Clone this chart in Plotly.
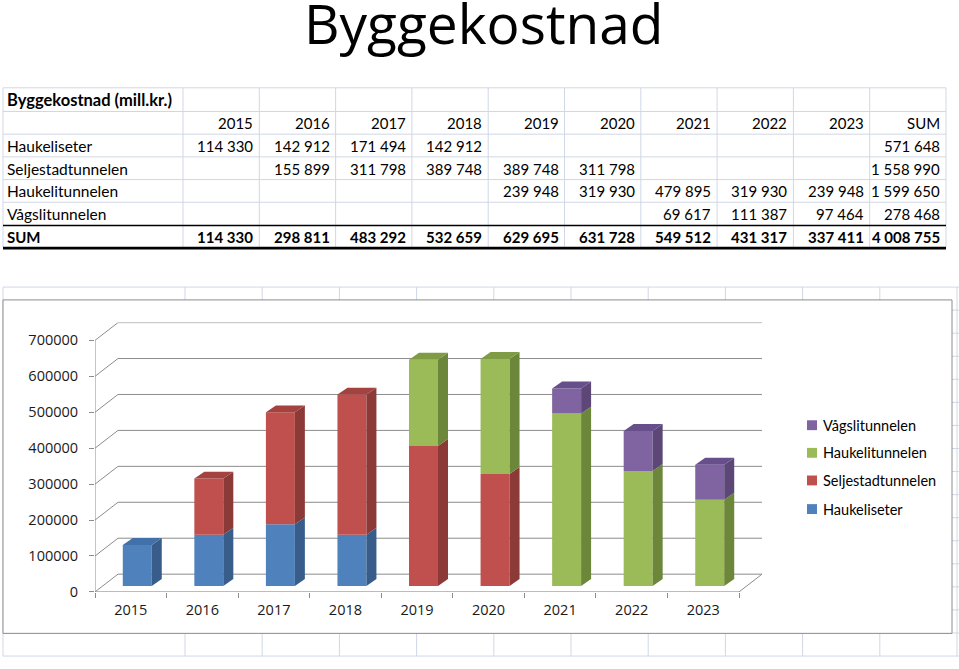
import plotly.graph_objects as go

# ---------------- data ----------------
years = ["2015", "2016", "2017", "2018", "2019", "2020", "2021", "2022", "2023"]
series_names = ["Haukeliseter", "Seljestadtunnelen", "Haukelitunnelen", "Vågslitunnelen"]
haukeliseter = [114330, 142912, 171494, 142912, None, None, None, None, None]
seljestadtunnelen = [None, 155899, 311798, 389748, 389748, 311798, None, None, None]
haukelitunnelen = [None, None, None, None, 239948, 319930, 479895, 319930, 239948]
vagslitunnelen = [None, None, None, None, None, None, 69617, 111387, 97464]
row_sums = [571648, 1558990, 1599650, 278468]
year_sums = [114330, 298811, 483292, 532659, 629695, 631728, 549512, 431317, 337411]
grand_total = 4008755
table_title = "Byggekostnad (mill.kr.)"
sum_label = "SUM"
page_title = "Byggekostnad"
y_ticks = [0, 100000, 200000, 300000, 400000, 500000, 600000, 700000]

series_values = [haukeliseter, seljestadtunnelen, haukelitunnelen, vagslitunnelen]

# ---------------- style ----------------
W, H = 959, 669
front_colors = ["#4F81BD", "#C0504D", "#9BBB59", "#8064A2"]
side_colors = ["#385D8A", "#8C3A38", "#6C873A", "#5C4777"]
top_colors = ["#4270A8", "#A4423F", "#7F9C45", "#674F8C"]
GRID_XL = "#D0D7E5"
AXIS_C = "#8C8C8C"
TXT_FONT = "Lato"
CH_FONT = "Open Sans"


def px(x):
    return x / W


def py(y):
    return 1 - y / H


def fmt(v):
    if v is None:
        return ""
    return f"{v:,}".replace(",", " ")


# 3D geometry (pixel -> data units)
PX_PER_CAT = 71.6
UNITS_PER_PX = 100000 / 36.4
WX, WY = 23 / PX_PER_CAT, 18 * UNITS_PER_PX      # back-wall offset
FX, FY = 6.5 / PX_PER_CAT, 6 * UNITS_PER_PX      # bar front-face offset
BW = 29 / PX_PER_CAT                              # bar width
DX, DY = 10 / PX_PER_CAT, 7 * UNITS_PER_PX       # bar depth

n = len(years)
fig = go.Figure()

# ---------------- bars ----------------
cum = [0] * n
sides = [([], []) for _ in series_values]
tops = [([], []) for _ in series_values]
top_series = [None] * n
top_val = [0] * n
for s, vals in enumerate(series_values):
    bx, by, bb = [], [], []
    for i, v in enumerate(vals):
        if not v:
            continue
        b = cum[i] + FY
        t = cum[i] + v + FY
        bx.append(i + FX)
        by.append(v)
        bb.append(b)
        x1 = i + FX + BW / 2
        sx, sy = sides[s]
        sx += [x1, x1 + DX, x1 + DX, x1, x1, None]
        sy += [b, b + DY, t + DY, t, b, None]
        cum[i] += v
        top_series[i] = s
        top_val[i] = t
    fig.add_trace(go.Bar(x=bx, y=by, base=bb, width=BW, name=series_names[s],
                         marker=dict(color=front_colors[s], line=dict(width=0)),
                         showlegend=False))

for i in range(n):
    s = top_series[i]
    if s is None:
        continue
    t = top_val[i]
    x0 = i + FX - BW / 2
    x1 = i + FX + BW / 2
    tx, ty = tops[s]
    tx += [x0, x1, x1 + DX, x0 + DX, x0, None]
    ty += [t, t, t + DY, t + DY, t, None]

for s in range(len(series_values)):
    fig.add_trace(go.Scatter(x=sides[s][0], y=sides[s][1], mode="lines", fill="toself",
                             fillcolor=side_colors[s], line=dict(width=0),
                             hoverinfo="skip", showlegend=False))
    if tops[s][0]:
        fig.add_trace(go.Scatter(x=tops[s][0], y=tops[s][1], mode="lines", fill="toself",
                                 fillcolor=top_colors[s], line=dict(width=0),
                                 hoverinfo="skip", showlegend=False))

shapes = []
annotations = []

# ---------------- spreadsheet grid behind chart ----------------
for k in range(17):
    yy = 291 + 23.375 * k
    shapes.append(dict(type="line", xref="paper", yref="paper", x0=px(3), x1=px(959),
                       y0=py(yy), y1=py(yy), line=dict(color=GRID_XL, width=1), layer="below"))
for xx in [3] + [185 + 77.2 * k for k in range(11)]:
    shapes.append(dict(type="line", xref="paper", yref="paper", x0=px(xx), x1=px(xx),
                       y0=py(291), y1=py(665), line=dict(color=GRID_XL, width=1), layer="below"))
# chart box
shapes.append(dict(type="rect", xref="paper", yref="paper", x0=px(3), x1=px(952),
                   y0=py(642), y1=py(304), fillcolor="white",
                   line=dict(color="#8C8C8C", width=1), layer="below"))

# ---------------- 3D wall / floor lines (data coordinates) ----------------
gl = dict(color=AXIS_C, width=1)
for v in y_ticks:
    shapes.append(dict(type="line", xref="x", yref="y", x0=-0.5 + WX, x1=n - 0.5 + WX,
                       y0=v + WY, y1=v + WY, line=gl, layer="below"))
    shapes.append(dict(type="line", xref="x", yref="y", x0=-0.5, x1=-0.5 + WX,
                       y0=v, y1=v + WY, line=gl, layer="below"))
shapes.append(dict(type="line", xref="x", yref="y", x0=-0.5, x1=-0.5, y0=0, y1=y_ticks[-1],
                   line=gl, layer="below"))
shapes.append(dict(type="line", xref="x", yref="y", x0=-0.5, x1=n - 0.5, y0=0, y1=0,
                   line=gl, layer="below"))
shapes.append(dict(type="line", xref="x", yref="y", x0=n - 0.5, x1=n - 0.5 + WX, y0=0, y1=WY,
                   line=gl, layer="below"))

# ---------------- table ----------------
col_edges = [183 + 76.3 * k for k in range(11)]
row_lines = [89, 113, 136, 159, 182, 205]
row_centers = [101, 125, 148, 171, 194, 217, 240]
for yy in row_lines:
    shapes.append(dict(type="line", xref="paper", yref="paper", x0=px(3), x1=px(946),
                       y0=py(yy), y1=py(yy), line=dict(color=GRID_XL, width=1)))
for xx in [3] + col_edges:
    shapes.append(dict(type="line", xref="paper", yref="paper", x0=px(xx), x1=px(xx),
                       y0=py(89), y1=py(251), line=dict(color=GRID_XL, width=1)))
shapes.append(dict(type="line", xref="paper", yref="paper", x0=px(3), x1=px(946),
                   y0=py(228.5), y1=py(228.5), line=dict(color="black", width=1.6)))
shapes.append(dict(type="line", xref="paper", yref="paper", x0=px(3), x1=px(946),
                   y0=py(251.5), y1=py(251.5), line=dict(color="black", width=2.6)))

tf = dict(family=TXT_FONT, size=15, color="black")


def cell(text, col, row, bold=False, left=False, size=15):
    t = f"<b>{text}</b>" if bold else text
    f = dict(tf, size=size)
    if left:
        annotations.append(dict(text=t, x=px(5), y=py(row_centers[row]), xref="paper",
                                yref="paper", xanchor="left", yanchor="middle",
                                showarrow=False, font=f))
    else:
        annotations.append(dict(text=t, x=px(col_edges[col + 1] - 4), y=py(row_centers[row]),
                                xref="paper", yref="paper", xanchor="right",
                                yanchor="middle", showarrow=False, font=f))


cell(table_title, 0, 0, bold=True, left=True, size=16.5)
for j, yr in enumerate(years):
    cell(yr, j, 1)
cell(sum_label, len(years), 1)
for s, vals in enumerate(series_values):
    cell(series_names[s], 0, 2 + s, left=True, size=15.5)
    for j, v in enumerate(vals):
        if v:
            cell(fmt(v), j, 2 + s)
    cell(fmt(row_sums[s]), len(years), 2 + s)
cell(sum_label, 0, 6, bold=True, left=True)
for j, v in enumerate(year_sums):
    cell(fmt(v), j, 6, bold=True)
cell(fmt(grand_total), len(years), 6, bold=True)

# ---------------- title ----------------
annotations.append(dict(text=page_title, x=px(483), y=py(23), xref="paper", yref="paper",
                        xanchor="center", yanchor="middle", showarrow=False,
                        font=dict(family="Open Sans", size=55, color="black")))

# ---------------- legend (manual) ----------------
leg_y = [516, 487, 459, 431]
for s in range(len(series_names)):
    yc = leg_y[s]
    shapes.append(dict(type="rect", xref="paper", yref="paper", x0=px(807), x1=px(817),
                       y0=py(yc + 5), y1=py(yc - 5), fillcolor=front_colors[s],
                       line=dict(width=0)))
    annotations.append(dict(text=series_names[s], x=px(821), y=py(yc), xref="paper",
                            yref="paper", xanchor="left", yanchor="middle", showarrow=False,
                            font=dict(family=TXT_FONT, size=14.5, color="black")))

fig.update_layout(
    width=W, height=H, autosize=False,
    margin=dict(l=0, r=0, t=0, b=0),
    paper_bgcolor="white", plot_bgcolor="rgba(0,0,0,0)",
    barmode="overlay", showlegend=False,
    shapes=shapes, annotations=annotations,
    xaxis=dict(domain=[px(95), px(762)], range=[-0.5, n - 0.5 + WX], showgrid=False,
               zeroline=False, showline=False, tickmode="array",
               tickvals=list(range(n)), ticktext=years, ticks="",
               ticklabelstandoff=8,
               tickfont=dict(family=CH_FONT, size=14.5, color="#1a1a1a"),
               minor=dict(tickvals=[k - 0.5 for k in range(n + 1)], ticks="outside",
                          ticklen=5, tickcolor=AXIS_C, tickwidth=1),
               fixedrange=True),
    yaxis=dict(domain=[py(600), py(327)], range=[0, y_ticks[-1] + WY], showgrid=False,
               zeroline=False, showline=False, tickmode="array", tickvals=y_ticks,
               ticktext=[str(v) for v in y_ticks], ticks="outside", ticklen=5,
               tickcolor=AXIS_C, ticklabelstandoff=8,
               tickfont=dict(family=CH_FONT, size=14.5, color="#1a1a1a"),
               fixedrange=True),
)

fig.write_html("out.html")
